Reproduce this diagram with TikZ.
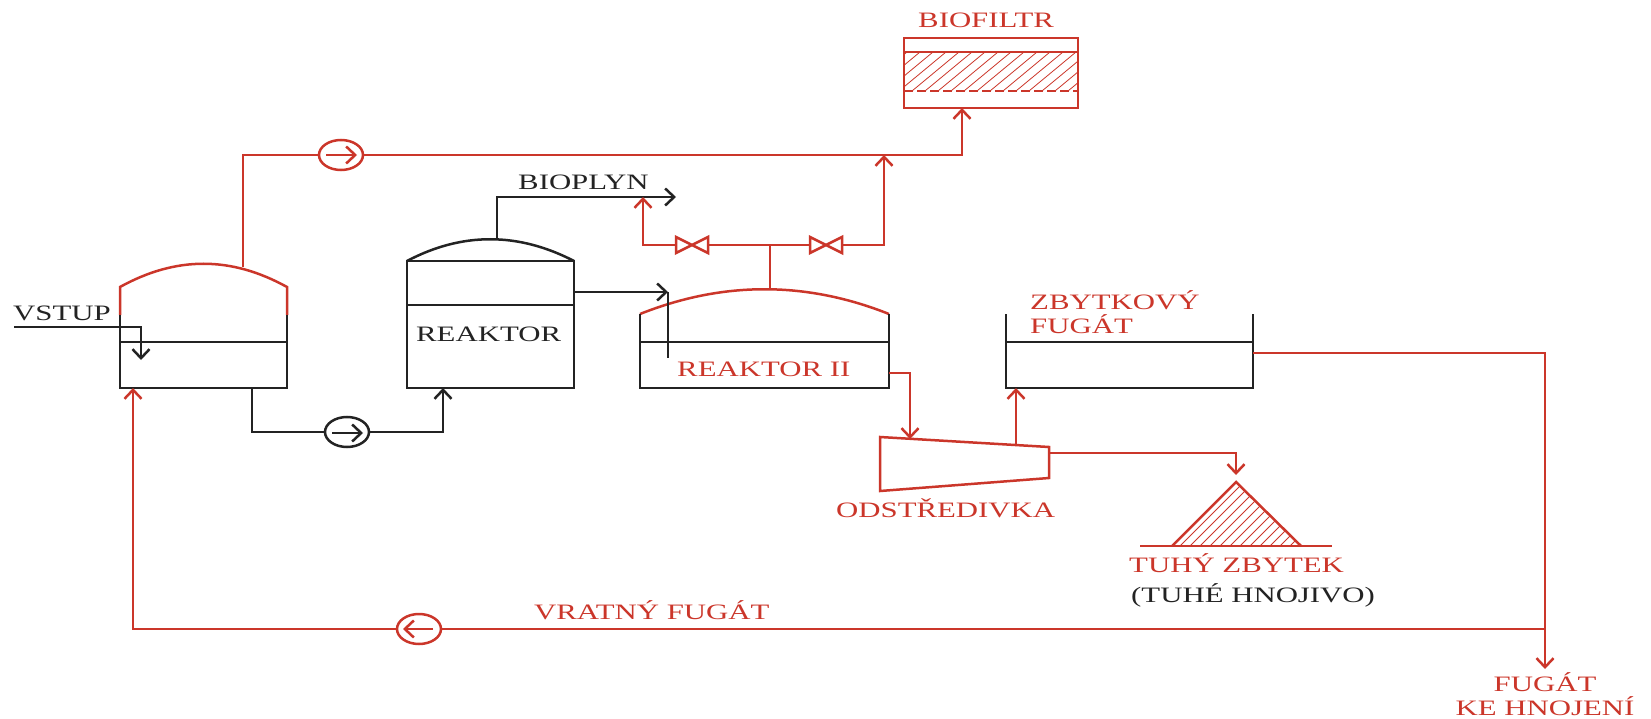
\documentclass[tikz,border=0pt]{standalone}
\usepackage{fontspec}
\setmainfont[FakeStretch=1.4]{Liberation Serif}
\usetikzlibrary{arrows.meta,shapes.geometric}
\definecolor{pipered}{RGB}{203,54,42}
\definecolor{pipeblack}{RGB}{35,35,35}

\begin{document}
\begin{tikzpicture}[x=1pt,y=-1pt,>={Straight Barb[length=9pt,width=17pt]}]
    \tikzset{redline/.style = {draw=pipered, line width=2.5pt}}
    \tikzset{blackline/.style = {draw=pipeblack, line width=2.5pt}}
    \tikzset{tank/.style = {rectangle, blackline, inner sep=0pt, outer sep=0pt}}
    \tikzset{pump/.style = {ellipse, fill=white, inner sep=0pt, outer sep=0pt, minimum width=44pt, minimum height=30pt}}
    \tikzset{caption/.style = {anchor=base west, inner sep=0pt, font=\fontsize{22}{22}\selectfont}}
    \tikzset{hatch/.style = {draw=pipered, line width=0.8pt}}

    \useasboundingbox (0,0) rectangle (1651,719);

    % vessels
    \node[tank,minimum width=167pt,minimum height=46pt] (vstupTank) at (203.5,365) {};
    \node[tank,minimum width=167pt,minimum height=127pt] (reaktor) at (490.5,324.5) {};
    \node[tank,minimum width=249pt,minimum height=46pt] (reaktorII) at (764.5,365) {};
    \node[tank,minimum width=247pt,minimum height=46pt] (zbytekTank) at (1129.5,365) {};
    \node[rectangle,redline,inner sep=0pt,outer sep=0pt,minimum width=174pt,minimum height=70pt] (biofiltr) at (991,73) {};

    % pumps
    \node[pump,redline] (pumpTop) at (341,155) {};
    \node[pump,blackline] (pumpMid) at (347,432) {};
    \node[pump,redline] (pumpBack) at (419,629) {};

    % joints
    \coordinate (gasOutA) at (243,267);
    \coordinate (gasOutB) at (497,239);
    \coordinate (gasOutC) at (770,289);
    \coordinate (tee) at (770,245);
    \coordinate (valveA) at (692,245);
    \coordinate (valveB) at (826,245);
    \coordinate (mainJoin) at (884,155);
    \coordinate (bioplynEnd) at (676,197);
    \coordinate (branchEnd) at (643,197);
    \coordinate (vstupStart) at (14,327);
    \coordinate (vstupEnd) at (141,360);
    \coordinate (inletII) at (668,292);
    \coordinate (inletEnd) at (668,358);
    \coordinate (odstrIn) at (910,439);
    \coordinate (odstrOut) at (1016,445);
    \coordinate (odstrEnd) at (1049,453);
    \coordinate (pileTop) at (1236,475);
    \coordinate (backJoin) at (1545,629);
    \coordinate (fugatEnd) at (1545,669);

    % domes and walls
    \draw[redline] (120,315) -- (120,287) .. controls (176,256) and (231,256) .. (287,287) -- (287,315);
    \draw[blackline] (vstupTank.north west) -- (120,315) (vstupTank.north east) -- (287,315);
    \draw[blackline] (reaktor.north west) .. controls (462,232) and (518,232) .. (reaktor.north east);
    \draw[blackline] (407,305) -- (574,305);
    \draw[redline] (640,314) .. controls (723,281) and (806,281) .. (889,314);
    \draw[blackline] (reaktorII.north west) -- (640,314) (reaktorII.north east) -- (889,314);
    \draw[blackline] (zbytekTank.north west) -- (1006,314) (zbytekTank.north east) -- (1253,314);

    % biofilter
    \begin{scope}
        \clip (904,52) rectangle (1078,91);
        \foreach \x in {860,873,...,1080}
            \draw[hatch] (\x,91) -- (\x+47,52);
    \end{scope}
    \draw[redline] (biofiltr.west |- 0,52) -- (biofiltr.east |- 0,52);
    \draw[redline,dashed,dash pattern=on 9pt off 4pt] (biofiltr.west |- 0,91) -- (biofiltr.east |- 0,91);

    % centrifuge and heap
    \draw[redline] (880,437) -- (1049,447) -- (1049,478) -- (880,491) -- cycle;
    \begin{scope}
        \clip (1236,482) -- (1301,546) -- (1172,546) -- cycle;
        \foreach \x in {1130,1140,...,1330}
            \draw[hatch] (\x,546) -- (\x+72,474);
    \end{scope}
    \draw[redline] (1172,546) -- (1236,482) -- (1301,546);
    \draw[redline] (1140,546) -- (1332,546);

    % black pipes
    \draw[blackline,->] (vstupStart) -| (vstupEnd);
    \draw[blackline] ([xshift=48.5pt]vstupTank.south) |- (pumpMid);
    \draw[blackline,->] (pumpMid) -| ([xshift=-47.5pt]reaktor.south);
    \draw[blackline,->] ([yshift=-1pt]pumpMid.west) ++(7,0) -- ([yshift=-1pt,xshift=-6pt]pumpMid.east);
    \draw[blackline,->] (gasOutB) |- (bioplynEnd);
    \draw[blackline,->] ([yshift=32.5pt]reaktor.east) -- (inletII);
    \draw[blackline] (inletII) -- (inletEnd);

    % red pipes
    \draw[redline] (gasOutA) |- (pumpTop);
    \draw[redline,->] (pumpTop) -| ([xshift=-29pt]biofiltr.south);
    \draw[redline,->] (pumpTop.west) ++(7,0) -- ([xshift=-6pt]pumpTop.east);
    \draw[redline] (gasOutC) -- (tee);
    \draw[redline,->] (tee) -- (valveA) -| (branchEnd);
    \draw[redline,->] (tee) -- (valveB) -| (mainJoin);
    \foreach \v in {valveA,valveB}
        \draw[redline,fill=white] ([shift={(-16,-8)}]\v) -- ([shift={(16,8)}]\v) -- ([shift={(16,-8)}]\v) -- ([shift={(-16,8)}]\v) -- cycle;
    \draw[redline,->] ([yshift=-8pt]reaktorII.east) -| (odstrIn);
    \draw[redline,->] (odstrOut) -- (odstrOut |- zbytekTank.south);
    \draw[redline,->] (odstrEnd) -| (pileTop);
    \draw[redline] ([yshift=12pt]zbytekTank.east) -| (backJoin);
    \draw[redline,->] (backJoin) -- (fugatEnd);
    \draw[redline] (backJoin) -- (pumpBack);
    \draw[redline,->] (pumpBack) -| ([xshift=13pt]vstupTank.south west);
    \draw[redline,->] ([xshift=-8pt]pumpBack.east) -- ([xshift=6pt]pumpBack.west);

    % labels
    \node[caption,text=pipered] (lblBiofiltr) at (918,28) {BIOFILTR};
    \node[caption,text=pipeblack] (lblBioplyn) at (518,190) {BIOPLYN};
    \node[caption,text=pipeblack] (lblVstup) at (13,320) {VSTUP};
    \node[caption,text=pipeblack] (lblReaktor) at (416,341) {REAKTOR};
    \node[caption,text=pipered] (lblReaktorII) at (677,376) {REAKTOR II};
    \node[caption,text=pipered] (lblZbytkovy) at (1030,309) {ZBYTKOVÝ};
    \node[caption,text=pipered] (lblFugat) at (1030,333) {FUGÁT};
    \node[caption,text=pipered] (lblOdstr) at (836,517) {ODSTŘEDIVKA};
    \node[caption,text=pipered] (lblTuhy) at (1129,572) {TUHÝ ZBYTEK};
    \node[caption,text=pipeblack] (lblHnojivo) at (1131,602) {(TUHÉ HNOJIVO)};
    \node[caption,text=pipered] (lblVratny) at (534,619) {VRATNÝ FUGÁT};
    \node[caption,text=pipered,anchor=base] (lblFugatKe) at (1545,691) {FUGÁT};
    \node[caption,text=pipered,anchor=base] (lblHnojeni) at (1545,715) {KE HNOJENÍ};
\end{tikzpicture}
\end{document}
